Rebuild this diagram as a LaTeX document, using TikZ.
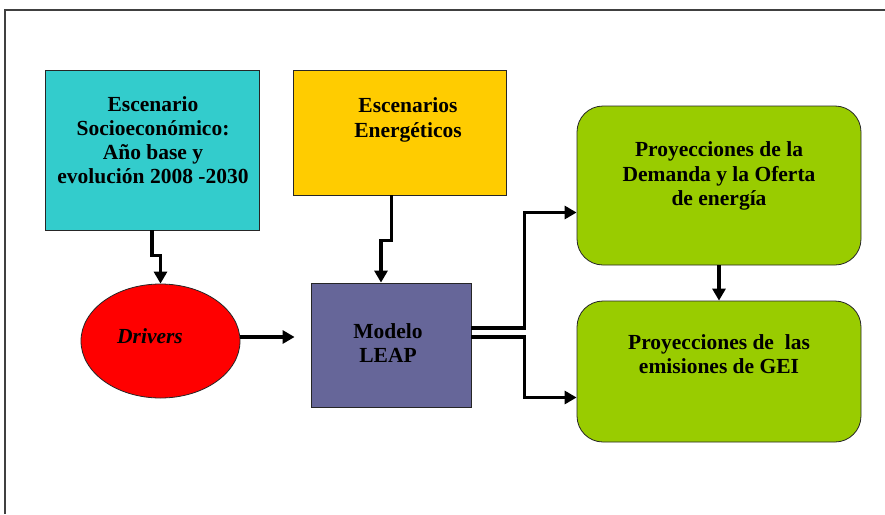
\documentclass[tikz,border=0pt]{standalone}
\usepackage{fontspec}
\setmainfont{Liberation Serif}
\usetikzlibrary{arrows.meta,calc,shapes.geometric}
\definecolor{cyanbox}{HTML}{33CCCC}
\definecolor{yelbox}{HTML}{FFCC00}
\definecolor{redell}{HTML}{FF0000}
\definecolor{purbox}{HTML}{666699}
\definecolor{grnbox}{HTML}{99CC00}
\definecolor{framegray}{HTML}{404040}
\tikzset{
  boxshape/.style={draw=black!85, line width=0.8pt, inner sep=0pt},
  lbl/.style={font=\fontsize{21.5}{24.2}\selectfont\bfseries, align=center, text=black},
  conn/.style={line width=3.4pt, -{Triangle[length=12pt,width=13pt]}},
  plain/.style={line width=3.4pt}
}
\begin{document}
\begin{tikzpicture}[x=1pt,y=-1pt]
\useasboundingbox (0,0) rectangle (885,514);
% frame
\draw[framegray, line width=1.2pt] (5,514) -- (5,10) -- (885,10);
% boxes
\node[boxshape, fill=cyanbox, minimum width=214pt, minimum height=160pt] (cyan) at (152,150) {};
\node[boxshape, fill=yelbox, minimum width=213pt, minimum height=125pt] (yel) at (399.5,132.5) {};
\node[boxshape, ellipse, fill=redell, minimum width=159pt, minimum height=114pt] (drv) at (160.5,341) {};
\node[boxshape, fill=purbox, minimum width=160pt, minimum height=124pt] (leap) at (391,345) {};
\node[boxshape, fill=grnbox, rounded corners=26pt, minimum width=284pt, minimum height=159pt] (g1) at (719,185.5) {};
\node[boxshape, fill=grnbox, rounded corners=26pt, minimum width=284pt, minimum height=141pt] (g2) at (719,371.5) {};
% texts
\node[lbl] (tcyan) at (153,140) {Escenario\\Socioeconómico:\\Año base y\\evolución 2008 -2030};
\node[lbl] (tyel) at (408,120) {Escenarios\\Energéticos};
\node[lbl, font=\fontsize{21.5}{24.2}\selectfont\bfseries\itshape] (tdrv) at (150,336) {Drivers};
\node[lbl] (tleap) at (388,343) {Modelo\\LEAP};
\node[lbl] (tg1) at (719,176) {Proyecciones de la\\Demanda y la Oferta\\de energía};
\node[lbl] (tg2) at (719,354) {Proyecciones de\ \ las\\emisiones de GEI};
% connectors
\coordinate (c1) at ($(cyan.south)+(0,25)$);
\draw[conn] (cyan.south) -- (c1) -| (drv.north);
\coordinate (y0) at ($(yel.south)+(-8,0)$);
\coordinate (y1) at ($(y0)+(0,45)$);
\coordinate (l0) at ($(leap.north)+(-10,0)$);
\draw[conn] (y0) -- (y1) -| (l0);
\coordinate (d0) at ($(drv.east)+(0,-4)$);
\coordinate (d1) at ($(leap.west)+(-16,-8)$);
\draw[conn] (d0) -- (d1);
\coordinate (e1) at ($(leap.east)+(0,-17)$);
\coordinate (e2) at ($(leap.east)+(0,-8)$);
\coordinate (a1) at ($(g1.west)+(0,27)$);
\coordinate (a2) at ($(g2.west)+(0,26)$);
\draw[conn] (e1) -- ++(53,0) |- (a1);
\draw[conn] (e2) -- ++(53,0) |- (a2);
\draw[conn] (g1.south) -- (g2.north);
\end{tikzpicture}
\end{document}
